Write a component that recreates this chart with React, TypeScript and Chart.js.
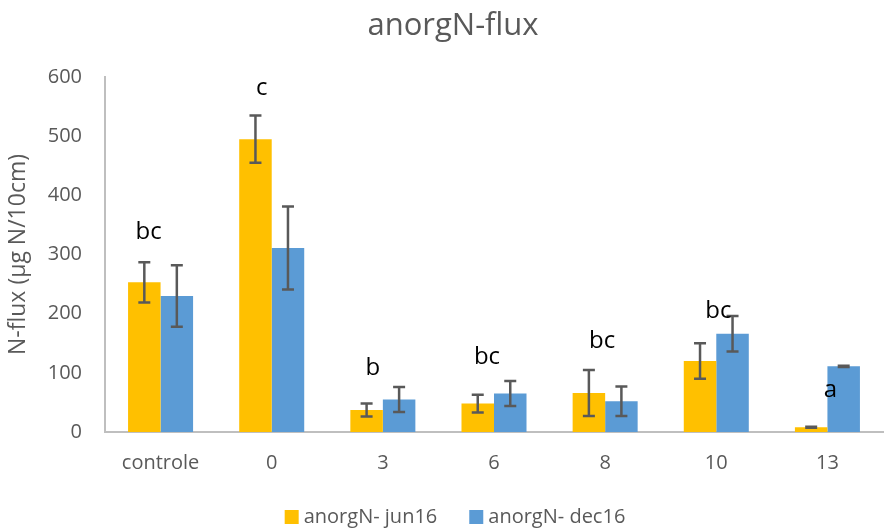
import React, { useEffect, useRef } from "react";
import { Chart, registerables } from "chart.js";

Chart.register(...registerables);

const categories = ["controle", "0", "3", "6", "8", "10", "13"];
const seriesNames = ["anorgN- jun16", "anorgN- dec16"];
const jun16 = [253, 495, 37, 48, 66, 120, 8];
const jun16Err = [34, 40, 11, 15, 39, 30, 1];
const dec16 = [230, 311, 55, 65, 52, 166, 111];
const dec16Err = [52, 70, 21, 21, 25, 30, 1];
const letters = ["bc", "c", "b", "bc", "bc", "bc", "a"];
const letterHeights = [338, 581, 108, 127, 154, 204, 71];
const letterShift = [-12, -10, -10, -7, -3, 2, 3];
const yTicks = [0, 100, 200, 300, 400, 500, 600];

const FONT = "'Open Sans', sans-serif";
const GREY = "#595959";
const COLORS = ["#FFC000", "#5B9BD5"];

const errorBarPlugin = {
  id: "errorBars",
  afterDatasetsDraw(chart: any) {
    const ctx = chart.ctx;
    const y = chart.scales.y;
    const errs = [jun16Err, dec16Err];
    ctx.save();
    ctx.strokeStyle = GREY;
    ctx.lineWidth = 2.5;
    chart.data.datasets.forEach((ds: any, di: number) => {
      const meta = chart.getDatasetMeta(di);
      meta.data.forEach((bar: any, i: number) => {
        const v = ds.data[i];
        const e = errs[di][i];
        const top = y.getPixelForValue(v + e);
        const bot = y.getPixelForValue(v - e);
        const x = bar.x;
        ctx.beginPath();
        ctx.moveTo(x, top);
        ctx.lineTo(x, bot);
        ctx.moveTo(x - 6, top);
        ctx.lineTo(x + 6, top);
        ctx.moveTo(x - 6, bot);
        ctx.lineTo(x + 6, bot);
        ctx.stroke();
      });
    });
    // letters
    const xs = chart.scales.x;
    ctx.fillStyle = "#000";
    ctx.font = `24px ${FONT}`;
    ctx.textAlign = "center";
    ctx.textBaseline = "middle";
    letters.forEach((t, i) => {
      ctx.fillText(t, xs.getPixelForValue(i) + letterShift[i], y.getPixelForValue(letterHeights[i]));
    });
    // title
    ctx.fillStyle = GREY;
    ctx.font = `31px ${FONT}`;
    ctx.textBaseline = "alphabetic";
    ctx.fillText("anorgN-flux", 453, 35);
    // legend
    ctx.font = `20px ${FONT}`;
    ctx.textAlign = "left";
    ctx.textBaseline = "middle";
    const box = 14;
    const gapBT = 5;
    const gapItems = 32;
    const widths = seriesNames.map((n) => box + gapBT + ctx.measureText(n).width);
    const total = widths.reduce((a, b) => a + b, 0) + gapItems * (widths.length - 1);
    let lx = 455 - total / 2;
    const ly = 517;
    seriesNames.forEach((n, i) => {
      ctx.fillStyle = COLORS[i];
      ctx.fillRect(lx, ly - box / 2, box, box);
      ctx.fillStyle = GREY;
      ctx.fillText(n, lx + box + gapBT, ly);
      lx += widths[i] + gapItems;
    });
    ctx.restore();
  },
};

export default function App() {
  const ref = useRef<HTMLCanvasElement>(null);
  useEffect(() => {
    document.body.style.margin = "0";
    const chart = new Chart(ref.current!, {
      type: "bar",
      data: {
        labels: categories,
        datasets: [
          { label: seriesNames[0], data: jun16, backgroundColor: COLORS[0] },
          { label: seriesNames[1], data: dec16, backgroundColor: COLORS[1] },
        ],
      },
      options: {
        animation: false,
        responsive: false,
        layout: { padding: { top: 77, right: 12, left: 0, bottom: 46 } },
        datasets: { bar: { categoryPercentage: 0.585, barPercentage: 1 } } as any,
        plugins: {
          title: { display: false },
          tooltip: { enabled: false },
          legend: { display: false },
        },
        scales: {
          x: {
            grid: { display: false, drawTicks: false },
            border: { color: "#BFBFBF", width: 2 },
            ticks: { font: { family: FONT, size: 20 }, color: GREY, padding: 19 },
            afterFit: (s: any) => {
              s.height = 50;
            },
          },
          y: {
            min: 0,
            max: 600,
            grid: { display: false, drawTicks: false },
            border: { color: "#BFBFBF", width: 2 },
            afterBuildTicks: (s: any) => {
              s.ticks = yTicks.map((v) => ({ value: v }));
            },
            ticks: { font: { family: FONT, size: 20 }, color: GREY, padding: 23 },
            title: {
              display: true,
              text: "N-flux (µg N/10cm)",
              font: { family: FONT, size: 23 },
              color: GREY,
              padding: { top: 5, bottom: 0 },
            },
            afterFit: (s: any) => {
              s.width = 105;
            },
          },
        },
      },
      plugins: [errorBarPlugin],
    });
    return () => chart.destroy();
  }, []);
  return (
    <div style={{ width: 895, height: 528 }}>
      <canvas ref={ref} width={895} height={528} style={{ width: 895, height: 528 }} />
    </div>
  );
}
